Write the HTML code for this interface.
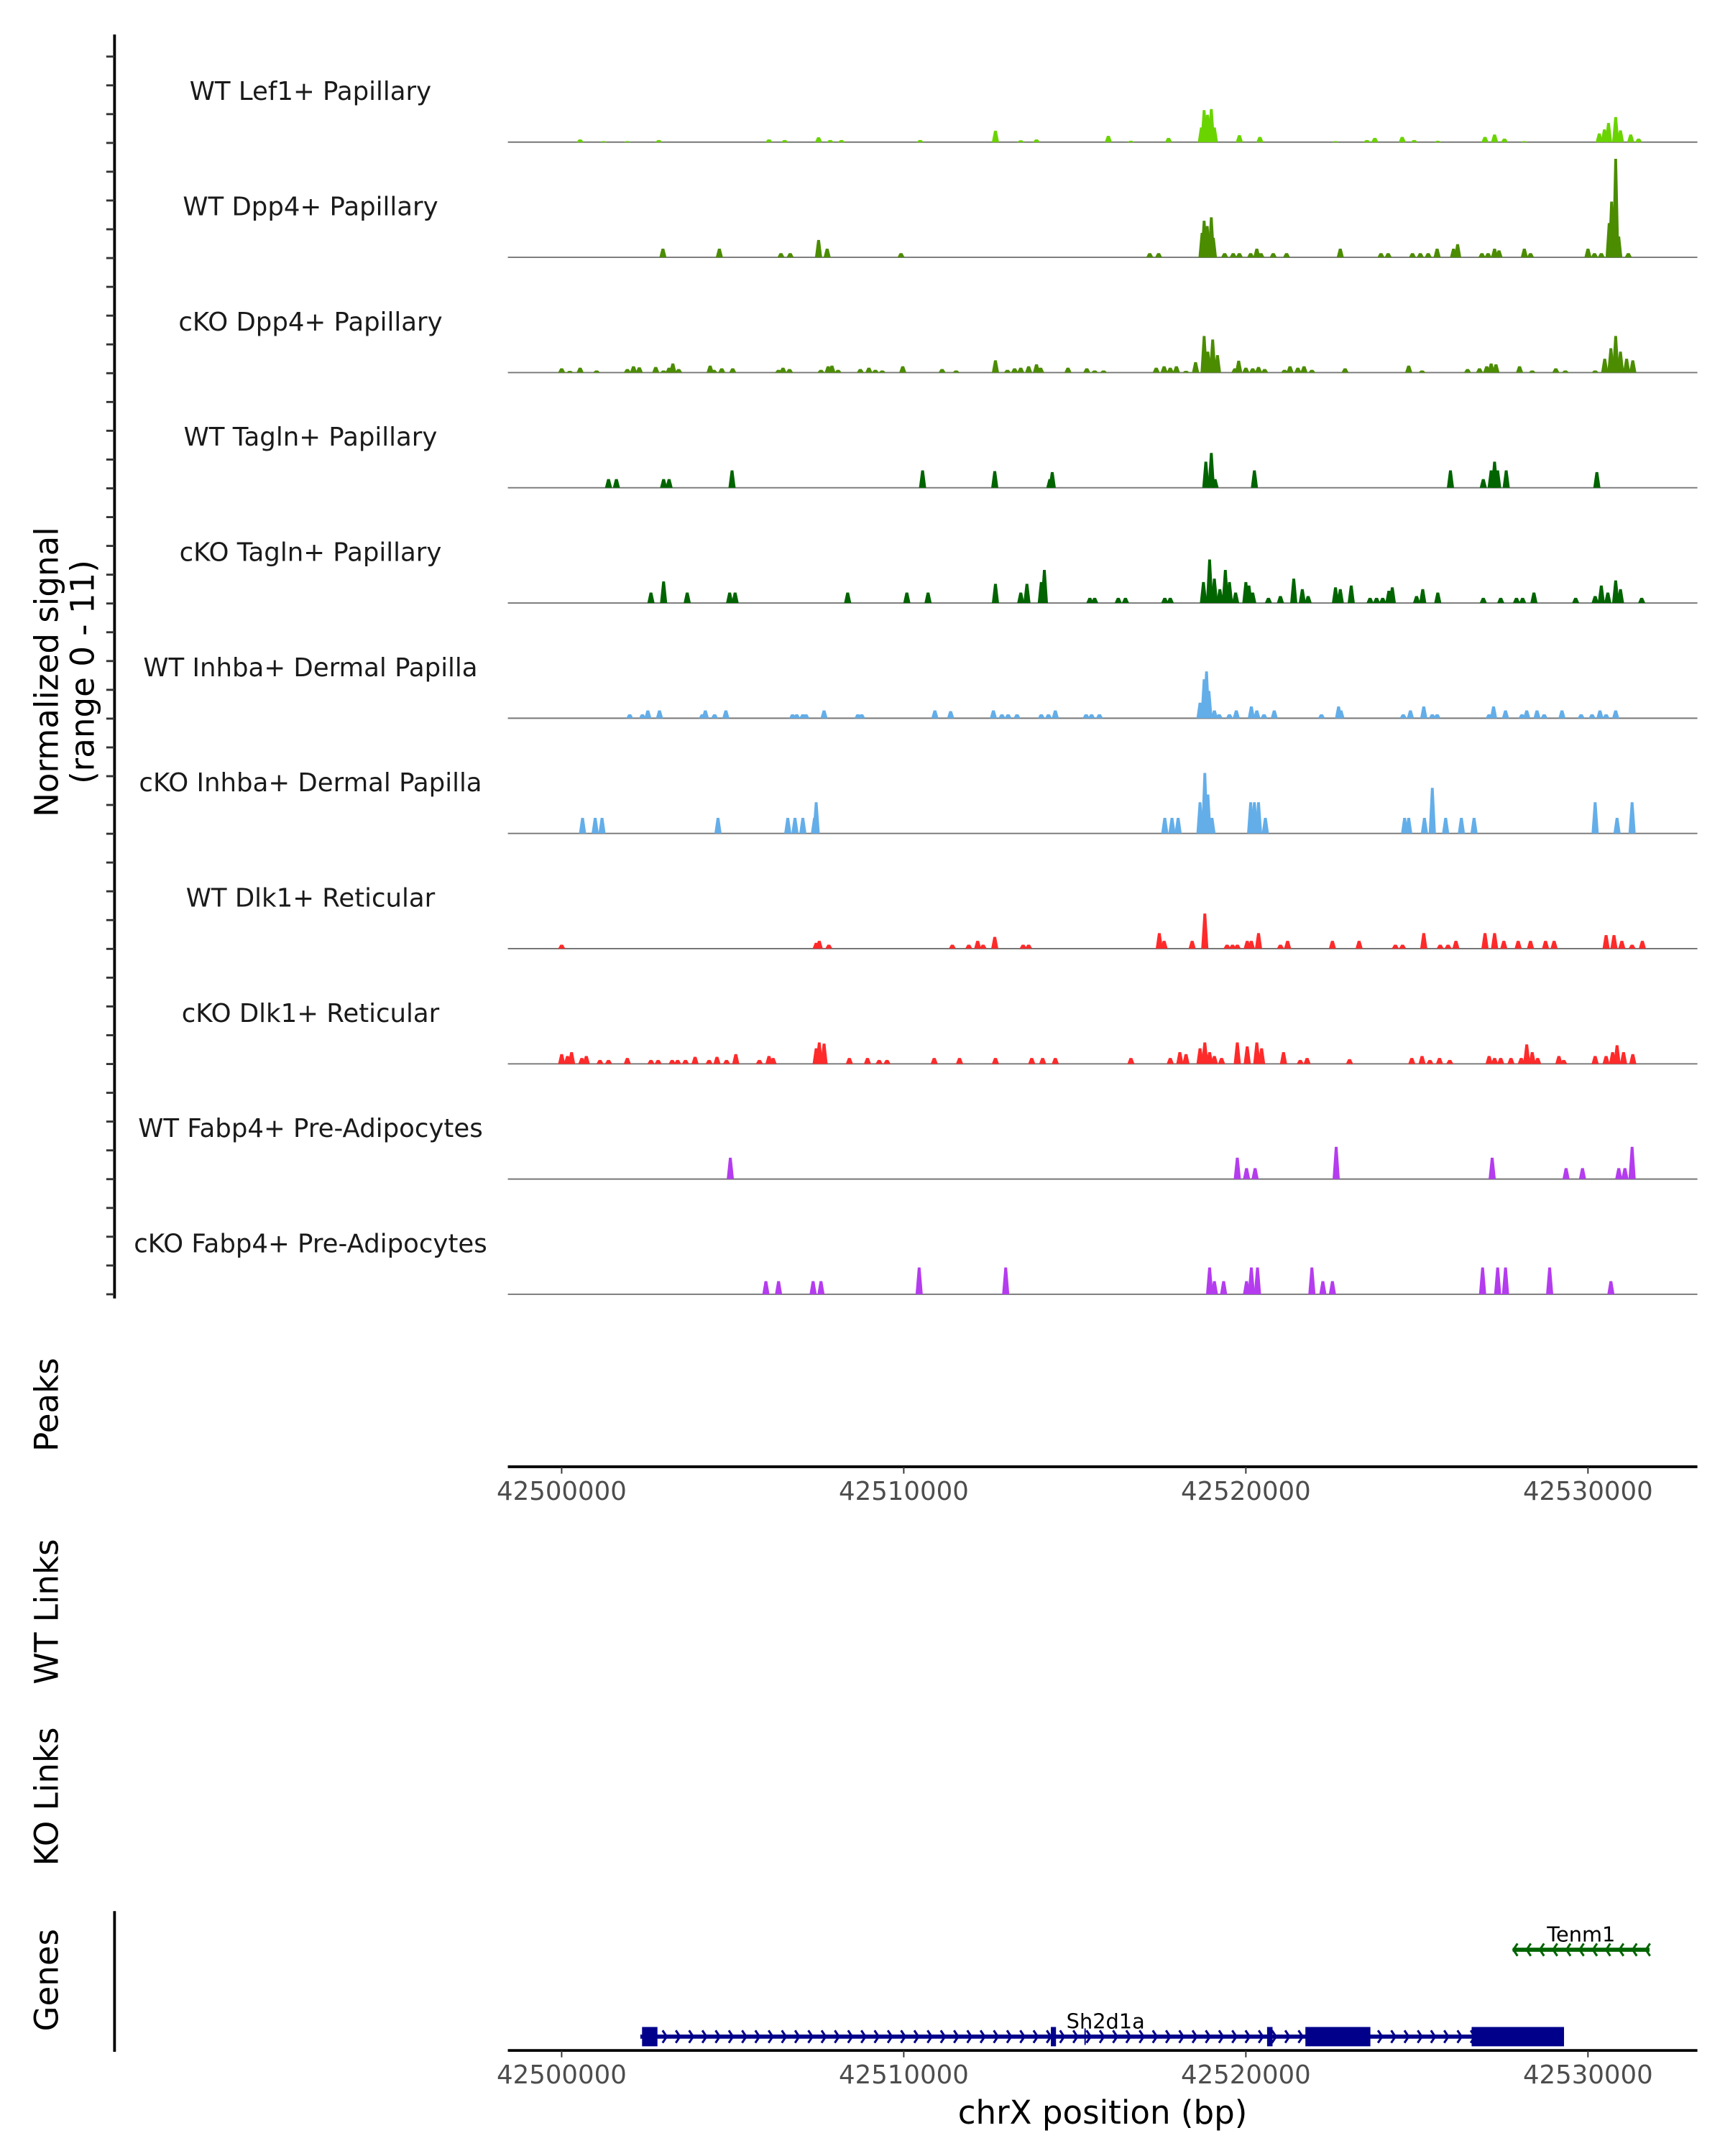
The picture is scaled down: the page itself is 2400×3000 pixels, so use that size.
<!DOCTYPE html>
<html><head><meta charset="utf-8"><style>
html,body{margin:0;padding:0;background:#fff}
svg{display:block}
text{font-family:"DejaVu Sans","Liberation Sans",sans-serif}
</style></head>
<body>
<svg id="chart" width="2400" height="3000" viewBox="0 0 1250 1562.5" xmlns="http://www.w3.org/2000/svg">
<g id="tracks"></g>
<g id="axes"></g>
<g id="genes"></g>
</svg>
<script>
// x positions are kb offsets from 42,500,000 bp; values are normalized signal (0-11)
const trackNames = ["WT Lef1+ Papillary","WT Dpp4+ Papillary","cKO Dpp4+ Papillary","WT Tagln+ Papillary","cKO Tagln+ Papillary","WT Inhba+ Dermal Papilla","cKO Inhba+ Dermal Papilla","WT Dlk1+ Reticular","cKO Dlk1+ Reticular","WT Fabp4+ Pre-Adipocytes","cKO Fabp4+ Pre-Adipocytes"];
const trackColors = ["#6ad400","#4b8c00","#4b8c00","#006400","#006400","#63aee9","#63aee9","#ff2a2a","#ff2a2a","#b43cee","#b43cee"];
const xTicks = [42500000,42510000,42520000,42530000];
const t1 = [[0.54,.28],[1.23,.1],[1.92,.1],[2.84,.21],[6.06,.28],[6.52,.21],[7.51,.5],[7.85,.21],[8.18,.21],[10.48,.21],[12.68,1.17],[13.42,.18],[13.88,.28],[15.98,.64],[16.64,.14],[17.74,.43],[18.7,1.5],[18.78,3.27],[18.88,2.8],[18.99,3.38],[19.08,1.5],[19.81,.71],[20.41,.53],[22.62,.1],[23.54,.21],[23.77,.43],[24.57,.53],[24.92,.21],[25.61,.14],[26.99,.53],[27.27,.78],[27.56,.36],[28.14,.1],[30.33,.89],[30.48,1.3],[30.6,1.96],[30.81,2.56],[30.95,1.2],[31.25,.78],[31.48,.36]];
const t2 = [[2.96,.89],[4.61,.89],[6.41,.43],[6.68,.43],[7.51,1.78],[7.76,.89],[9.92,.43],[17.19,.43],[17.45,.43],[18.72,2.5],[18.78,3.74],[18.87,3.2],[18.99,4.09],[19.05,2.0],[19.38,.43],[19.63,.43],[19.81,.43],[20.14,.43],[20.32,.89],[20.44,.43],[20.8,.43],[21.19,.43],[22.76,.89],[23.95,.43],[24.16,.43],[24.87,.43],[25.1,.43],[25.33,.43],[25.59,.89],[26.07,.89],[26.19,1.35],[26.9,.43],[27.08,.43],[27.27,.89],[27.4,.71],[28.14,.89],[28.32,.43],[30.0,.89],[30.19,.43],[30.39,.43],[30.62,3.5],[30.69,5.7],[30.81,10.07],[30.9,2.14],[31.18,.43]];
const t3 = [[0.0,.43],[0.24,.18],[0.54,.5],[1.02,.21],[1.92,.36],[2.1,.64],[2.27,.53],[2.75,.57],[2.98,.21],[3.14,.5],[3.25,.93],[3.42,.36],[4.34,.71],[4.45,.28],[4.68,.43],[5.0,.43],[6.34,.28],[6.47,.5],[6.66,.36],[7.58,.28],[7.79,.64],[7.9,.71],[8.08,.28],[8.73,.36],[8.98,.5],[9.17,.28],[9.37,.21],[9.97,.64],[11.12,.36],[11.53,.21],[12.68,1.25],[13.03,.28],[13.24,.43],[13.42,.5],[13.65,.64],[13.88,.85],[14.0,.5],[14.8,.5],[15.35,.43],[15.58,.21],[15.84,.21],[17.38,.5],[17.61,.64],[17.79,.5],[17.97,.64],[18.25,.18],[18.53,1.07],[18.78,3.74],[18.89,2.14],[19.03,3.38],[19.17,1.78],[19.68,.43],[19.79,1.21],[20.0,.5],[20.2,.43],[20.37,.57],[20.55,.36],[21.13,.28],[21.29,.64],[21.52,.5],[21.7,.64],[21.93,.28],[22.9,.43],[24.76,.71],[25.15,.21],[26.48,.36],[26.83,.43],[27.04,.64],[27.17,.93],[27.31,.85],[28.0,.64],[28.37,.21],[29.06,.43],[29.34,.21],[30.21,.21],[30.49,1.42],[30.67,2.49],[30.81,3.74],[30.95,2.14],[31.13,1.42],[31.31,1.25]];
const t4 = [[1.37,.89],[1.6,.89],[2.98,.89],[3.14,.89],[4.98,1.78],[10.55,1.78],[12.66,1.71],[14.27,.89],[14.34,1.6],[18.83,2.67],[18.99,3.56],[19.1,.89],[20.25,1.78],[25.98,1.78],[26.94,.89],[27.17,1.78],[27.27,2.67],[27.36,1.78],[27.61,1.78],[30.26,1.6]];
const t5 = [[2.61,1.07],[2.98,2.21],[3.67,1.07],[4.91,1.07],[5.07,1.07],[8.36,1.07],[10.09,1.07],[10.71,1.07],[12.68,1.96],[13.42,1.07],[13.6,1.96],[14.02,2.14],[14.11,3.38],[15.44,.53],[15.58,.53],[16.27,.53],[16.48,.53],[17.63,.53],[17.79,.53],[18.76,2.14],[18.94,4.45],[19.08,2.49],[19.24,1.42],[19.4,3.38],[19.52,2.14],[19.7,1.07],[20.0,2.14],[20.09,1.78],[20.2,1.07],[20.66,.53],[21.01,.71],[21.4,2.49],[21.65,1.42],[21.82,.71],[22.62,1.6],[22.76,1.42],[23.08,1.78],[23.63,.53],[23.82,.53],[24.0,.53],[24.18,1.25],[24.28,1.6],[24.99,.71],[25.17,1.42],[25.61,1.07],[26.94,.53],[27.45,.53],[27.91,.53],[28.09,.53],[28.42,1.07],[29.64,.53],[30.21,.71],[30.39,1.78],[30.58,1.07],[30.81,2.31],[30.95,1.42],[31.57,.53]];
const t6 = [[1.99,.4],[2.36,.4],[2.52,.8],[2.86,.8],[4.11,.4],[4.2,.8],[4.47,.4],[4.8,.8],[6.75,.4],[6.87,.4],[7.05,.4],[7.14,.4],[7.67,.8],[8.66,.4],[8.77,.4],[10.91,.8],[11.37,.72],[12.62,.8],[12.87,.4],[13.05,.4],[13.31,.4],[14.02,.4],[14.23,.4],[14.43,.8],[15.33,.4],[15.49,.4],[15.72,.4],[18.66,1.59],[18.78,3.98],[18.85,4.78],[18.92,2.79],[19.08,.8],[19.22,.4],[19.52,.4],[19.72,.8],[20.16,1.2],[20.32,.8],[20.53,.4],[20.83,.8],[22.21,.4],[22.71,1.2],[22.78,.8],[24.6,.4],[24.81,.8],[25.2,1.2],[25.45,.4],[25.59,.4],[27.11,.4],[27.24,1.2],[27.59,.8],[28.07,.4],[28.21,.8],[28.51,.8],[28.72,.4],[29.24,.8],[29.8,.4],[30.12,.4],[30.35,.8],[30.53,.4],[30.81,.8]];
const t7 = [[0.61,1.59],[0.98,1.59],[1.18,1.59],[4.57,1.59],[6.61,1.59],[6.82,1.59],[7.05,1.59],[7.39,1.59],[7.44,3.19],[17.63,1.59],[17.84,1.59],[18.02,1.59],[18.66,3.19],[18.8,6.18],[18.89,3.98],[19.01,1.59],[20.14,3.19],[20.25,3.19],[20.37,3.19],[20.57,1.59],[24.64,1.59],[24.76,1.59],[25.22,1.59],[25.45,4.66],[25.84,1.59],[26.3,1.59],[26.67,1.59],[30.21,3.19],[30.85,1.59],[31.29,3.19]];
const t8 = [[0.0,.4],[7.44,.6],[7.53,.8],[7.81,.4],[11.42,.4],[11.9,.4],[12.16,.8],[12.32,.4],[12.66,1.2],[13.49,.4],[13.65,.4],[17.47,1.59],[17.61,.8],[18.43,.8],[18.8,3.59],[19.45,.4],[19.61,.4],[19.75,.4],[20.04,.8],[20.16,.8],[20.37,1.59],[21.01,.4],[21.22,.8],[22.53,.8],[23.31,.8],[24.37,.4],[24.58,.4],[25.2,1.59],[25.68,.4],[25.91,.4],[26.14,.8],[26.99,1.59],[27.27,1.59],[27.54,.8],[27.96,.8],[28.32,.8],[28.76,.8],[29.01,.8],[30.53,1.39],[30.76,1.39],[30.99,.8],[31.29,.4],[31.59,.8]];
const t9 = [[0.0,1.0],[0.17,.8],[0.29,1.2],[0.59,.6],[0.72,.8],[1.12,.4],[1.37,.4],[1.92,.6],[2.61,.4],[2.82,.4],[3.23,.4],[3.39,.4],[3.62,.4],[3.9,.72],[4.31,.4],[4.54,.72],[4.82,.4],[5.09,1.0],[5.78,.4],[6.06,.8],[6.18,.6],[7.44,1.59],[7.53,2.19],[7.67,2.07],[8.41,.6],[8.94,.6],[9.28,.4],[9.51,.4],[10.89,.6],[11.63,.6],[12.68,.6],[13.74,.6],[14.06,.6],[14.43,.6],[16.64,.6],[17.79,.6],[18.07,1.2],[18.25,1.0],[18.66,1.59],[18.8,2.19],[18.94,1.2],[19.08,.8],[19.29,.6],[19.75,2.19],[20.04,1.79],[20.32,2.19],[20.46,1.59],[21.1,1.2],[21.59,.4],[21.79,.6],[23.03,.48],[24.85,.6],[25.15,.8],[25.38,.4],[25.66,.6],[25.96,.4],[27.11,.8],[27.27,.6],[27.45,.6],[27.75,.6],[28.05,.6],[28.21,1.99],[28.37,1.2],[28.53,.6],[29.15,.8],[29.29,.4],[30.21,.8],[30.53,.8],[30.72,1.2],[30.85,1.91],[31.04,1.2],[31.31,1.0]];
const t10 = [[4.93,2.19],[19.75,2.19],[20.02,1.12],[20.27,1.12],[22.64,3.3],[27.2,2.19],[29.36,1.12],[29.84,1.12],[30.9,1.12],[31.08,1.12],[31.29,3.3]];
const t11 = [[5.97,1.35],[6.34,1.35],[7.35,1.35],[7.58,1.35],[10.45,2.74],[12.98,2.74],[18.94,2.74],[19.08,1.35],[19.35,1.35],[20.02,1.35],[20.16,2.74],[20.34,2.74],[21.93,2.74],[22.25,1.35],[22.53,1.35],[26.92,2.74],[27.36,2.74],[27.59,2.74],[28.88,2.74],[30.67,1.35]];
const trackData = [t1,t2,t3,t4,t5,t6,t7,t8,t9,t10,t11];
// genes (kb offsets)
const sh2d1aSpan = [2.3, 29.3];
const sh2d1aExons = [[2.35,2.8],[14.3,14.45],[20.62,20.78],[21.74,23.64],[26.6,29.3]];
const tenm1Span = [27.8, 31.8];

const NS="http://www.w3.org/2000/svg";
const X0=407, PXKB=24.79, XL=368, XR=1230;
const xs = kb => X0 + kb*PXKB;
const base0=103, step=83.5, maxV=11, maxH=78;
const ys = (i,v) => base0 + i*step - v/maxV*maxH;
function mk(tag, attrs, parent){const e=document.createElementNS(NS,tag);for(const k in attrs)e.setAttribute(k,attrs[k]);parent.appendChild(e);return e;}
const tracks=document.getElementById('tracks');
trackData.forEach((d,i)=>{
  const g=mk('g',{},tracks);
  
  
  const b=base0+i*step;
  const lab=mk('text',{x:225,y:b-37+6.5,'text-anchor':'middle','font-size':18.5,fill:'#1a1a1a'},g);
  lab.textContent=trackNames[i];
  
  
  const ln=mk('line',{x1:XL,x2:XR,y1:b,y2:b,stroke:'#777','stroke-width':1},g);
  
  
  d.forEach(p=>{
    const x=xs(p[0]), y=ys(i,p[1]);
    const pk=mk('polygon',{points:`${x-2.6},${b} ${x-1.0},${y} ${x+1.0},${y} ${x+2.6},${b}`,fill:trackColors[i]},g);
    
    
  });
});
const axes=document.getElementById('axes');
const la=mk('line',{x1:83,x2:83,y1:25,y2:941,stroke:'#000','stroke-width':2},axes);


for(let k=0;k<=43;k++){
  const y=41+(938-41)*k/43;
  const t=mk('line',{x1:77,x2:83,y1:y,y2:y,stroke:'#333','stroke-width':1.5},axes);
  
  
}
const yt=mk('text',{transform:'translate(42,487) rotate(-90)','text-anchor':'middle','font-size':23.5,fill:'#000'},axes);


const ts1=mk('tspan',{x:0,dy:0},yt);ts1.textContent='Normalized signal';
const ts2=mk('tspan',{x:0,dy:26},yt);ts2.textContent='(range 0 - 11)';
function xAxis(y,name){
  const a=mk('line',{x1:XL,x2:XR,y1:y,y2:y,stroke:'#000','stroke-width':2},axes);
  
  
  xTicks.forEach(v=>{
    const x=xs((v-42500000)/1000);
    const t=mk('line',{x1:x,x2:x,y1:y,y2:y+5,stroke:'#333','stroke-width':1},axes);
    
    
    const l=mk('text',{x:x,y:y+24,'text-anchor':'middle','font-size':18.5,fill:'#4d4d4d'},axes);
    l.textContent=String(v);
    
    
  });
}
xAxis(1063,'peaks-x-axis');
xAxis(1486,'genes-x-axis');
const xt=mk('text',{x:799,y:1539,'text-anchor':'middle','font-size':23.5,fill:'#000'},axes);
xt.textContent='chrX position (bp)';


[['Peaks',1018,'peaks-label'],['WT Links',1168,'wt-links-label'],['KO Links',1302,'ko-links-label'],['Genes',1435,'genes-label']].forEach(s=>{
  const t=mk('text',{transform:`translate(42,${s[1]}) rotate(-90)`,'text-anchor':'middle','font-size':23.5,fill:'#000'},axes);
  t.textContent=s[0];
  
  
});
const ga=mk('line',{x1:83,x2:83,y1:1385,y2:1487,stroke:'#000','stroke-width':2},axes);


const gg=document.getElementById('genes');
function chevrons(a,b,y,dir,color,parent){
  for(let x=a+8;x<b-2;x+=9.6){
    const d = dir>0 ? `M${x-1.5},${y-4.5} L${x+1.5},${y} L${x-1.5},${y+4.5}` : `M${x+1.5},${y-4.5} L${x-1.5},${y} L${x+1.5},${y+4.5}`;
    const c=mk('path',{d:d,fill:'none',stroke:color,'stroke-width':1.6},parent);
    
    
  }
}
const gy=1476;
const sg=mk('g',{},gg);


mk('line',{x1:xs(sh2d1aSpan[0]),x2:xs(sh2d1aSpan[1]),y1:gy,y2:gy,stroke:'#00008b','stroke-width':3},sg);
chevrons(xs(sh2d1aSpan[0]),xs(sh2d1aSpan[1]),gy,1,'#00008b',sg);
sh2d1aExons.forEach(e=>{
  const r=mk('rect',{x:xs(e[0]),y:gy-7,width:Math.max(xs(e[1])-xs(e[0]),2),height:14,fill:'#00008b'},sg);
  
  
});
const sl=mk('text',{x:xs(15.9),y:1470,'text-anchor':'middle','font-size':15,fill:'#000'},sg);
sl.textContent='Sh2d1a';


mk('line',{x1:xs(15.3),x2:xs(15.3),y1:1470,y2:1482,stroke:'#00008b','stroke-width':1},sg);
const tg=mk('g',{},gg);


mk('line',{x1:xs(tenm1Span[0]),x2:xs(tenm1Span[1]),y1:1413,y2:1413,stroke:'#006400','stroke-width':3},tg);
chevrons(xs(tenm1Span[0])-6,xs(tenm1Span[1])+4,1413,-1,'#006400',tg);
const tl=mk('text',{x:xs(29.8),y:1407,'text-anchor':'middle','font-size':15,fill:'#000'},tg);
tl.textContent='Tenm1';


</script>
</body></html>
